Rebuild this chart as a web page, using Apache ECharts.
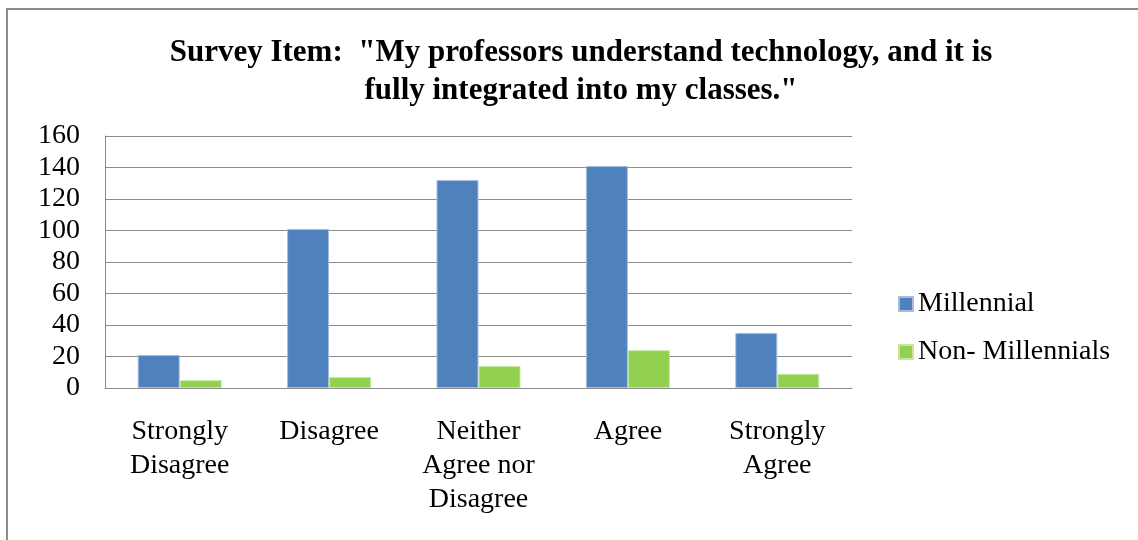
<!DOCTYPE html>
<html>
<head>
<meta charset="utf-8">
<script src="https://cdn.jsdelivr.net/npm/echarts@6/dist/echarts.min.js"></script>
<style>
  html, body { margin: 0; padding: 0; background: #fff; }
  #chart { width: 1138px; height: 540px; }
</style>
</head>
<body>
<div id="chart"></div>
<script>
// survey answers
var categories = ['Strongly\nDisagree', 'Disagree', 'Neither\nAgree nor\nDisagree', 'Agree', 'Strongly\nAgree'];
var millennial = [21, 101, 132, 141, 35];
var nonMillennials = [5, 7, 14, 24, 9];
var yTicks = [0, 20, 40, 60, 80, 100, 120, 140, 160];

var serif = '"Liberation Serif", "Times New Roman", serif';

var myChart = echarts.init(document.getElementById('chart'));
var option = {
  backgroundColor: '#fff',
  animation: false,
  graphic: [{
    type: 'rect',
    shape: { x: 7, y: 9, width: 1200, height: 600 },
    style: { fill: 'none', stroke: '#8c8c8c', lineWidth: 2 }
  }],
  title: {
    text: 'Survey Item:  "My professors understand technology, and it is\nfully integrated into my classes."',
    left: 576,
    top: 29,
    textAlign: 'center',
    textStyle: {
      fontFamily: serif,
      fontWeight: 'bold',
      fontSize: 31,
      lineHeight: 38,
      color: '#000'
    }
  },
  legend: {
    orient: 'vertical',
    left: 893,
    top: 285,
    icon: 'rect',
    itemWidth: 14,
    itemHeight: 14,
    itemGap: 20,
    textStyle: { fontFamily: serif, fontSize: 28, color: '#000' },
    data: ['Millennial', 'Non- Millennials']
  },
  grid: { left: 105, right: 286, top: 136, bottom: 152 },
  xAxis: {
    type: 'category',
    data: categories,
    axisLine: { lineStyle: { color: '#8c8c8c', width: 1 } },
    axisTick: { show: false },
    axisLabel: {
      fontFamily: serif, fontSize: 28, color: '#000',
      lineHeight: 34, margin: 27, interval: 0
    }
  },
  yAxis: {
    type: 'value',
    min: yTicks[0],
    max: yTicks[yTicks.length - 1],
    interval: 20,
    axisLine: { show: true, lineStyle: { color: '#8c8c8c', width: 1 } },
    axisTick: { show: false },
    splitLine: { lineStyle: { color: '#8c8c8c', width: 1 } },
    axisLabel: { fontFamily: serif, fontSize: 28, color: '#000', margin: 25 }
  },
  series: [
    {
      name: 'Millennial',
      type: 'bar',
      data: millennial,
      barWidth: 42,
      barGap: '0%',
      itemStyle: { color: '#4f81bd', borderColor: '#a7bfde', borderWidth: 1 }
    },
    {
      name: 'Non- Millennials',
      type: 'bar',
      data: nonMillennials,
      barWidth: 42,
      barGap: '0%',
      itemStyle: { color: '#92d050', borderColor: '#c5e7a5', borderWidth: 1 }
    }
  ]
};
myChart.setOption(option);
</script>
</body>
</html>
